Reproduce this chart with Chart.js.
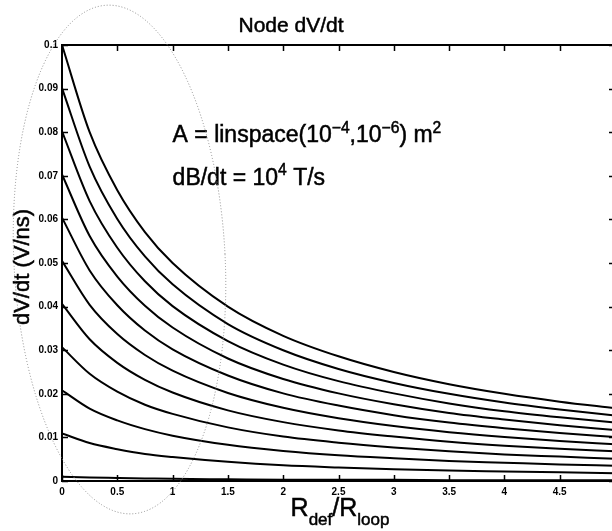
<!DOCTYPE html>
<html>
<head>
<meta charset="utf-8">
<script src="https://cdn.jsdelivr.net/npm/chart.js@4/dist/chart.umd.min.js"></script>
<style>
  html, body { margin: 0; padding: 0; background: #fff; overflow: hidden; }
  #wrap { width: 612px; height: 531px; overflow: hidden; }
</style>
</head>
<body>
<div id="wrap"><canvas id="c" width="620" height="531"></canvas></div>

<script>
const xs = [0, 0.25, 0.5, 0.75, 1, 1.5, 2, 2.5, 3, 3.5, 4, 4.5, 5];

// dV/dt (V/ns), one curve per area value
const curveA1  = [0.1,    0.08,   0.0667, 0.0571, 0.05,   0.04,   0.0333, 0.0286, 0.025,  0.0222, 0.02,   0.0182, 0.0167];
const curveA2  = [0.0901, 0.0721, 0.0601, 0.0515, 0.0451, 0.036,  0.03,   0.0257, 0.0225, 0.02,   0.018,  0.0164, 0.015];
const curveA3  = [0.0802, 0.0642, 0.0535, 0.0458, 0.0401, 0.0321, 0.0267, 0.0229, 0.0201, 0.0178, 0.016,  0.0146, 0.0134];
const curveA4  = [0.0703, 0.0562, 0.0469, 0.0402, 0.0352, 0.0281, 0.0234, 0.0201, 0.0176, 0.0156, 0.0141, 0.0128, 0.0117];
const curveA5  = [0.0604, 0.0483, 0.0403, 0.0345, 0.0302, 0.0242, 0.0201, 0.0173, 0.0151, 0.0134, 0.0121, 0.011,  0.0101];
const curveA6  = [0.0505, 0.0404, 0.0337, 0.0289, 0.0253, 0.0202, 0.0168, 0.0144, 0.0126, 0.0112, 0.0101, 0.0092, 0.0084];
const curveA7  = [0.0406, 0.0325, 0.0271, 0.0232, 0.0203, 0.0162, 0.0135, 0.0116, 0.0102, 0.009,  0.0081, 0.0074, 0.0068];
const curveA8  = [0.0307, 0.0246, 0.0205, 0.0175, 0.0154, 0.0123, 0.0102, 0.0088, 0.0077, 0.0068, 0.0061, 0.0056, 0.0051];
const curveA9  = [0.0208, 0.0166, 0.0139, 0.0119, 0.0104, 0.0083, 0.0069, 0.0059, 0.0052, 0.0046, 0.0042, 0.0038, 0.0035];
const curveA10 = [0.0109, 0.0087, 0.0073, 0.0062, 0.0055, 0.0044, 0.0036, 0.0031, 0.0027, 0.0024, 0.0022, 0.002,  0.0018];
const curveA11 = [0.001,  0.0008, 0.0007, 0.0006, 0.0005, 0.0004, 0.0003, 0.0003, 0.0003, 0.0002, 0.0002, 0.0002, 0.0002];

const curves = [curveA1, curveA2, curveA3, curveA4, curveA5, curveA6,
                curveA7, curveA8, curveA9, curveA10, curveA11];

const xTickValues = [0, 0.5, 1, 1.5, 2, 2.5, 3, 3.5, 4, 4.5, 5];
const xTickLabels = ['0', '0.5', '1', '1.5', '2', '2.5', '3', '3.5', '4', '4.5', ''];
const yTickValues = [0, 0.01, 0.02, 0.03, 0.04, 0.05, 0.06, 0.07, 0.08, 0.09, 0.1];
const yTickLabels = ['0', '0.01', '0.02', '0.03', '0.04', '0.05', '0.06', '0.07', '0.08', '0.09', '0.1'];

const FONT = "'Liberation Sans', Arial, Helvetica, sans-serif";

// draw text made of normal / sup / sub pieces, left aligned at x
function drawRich(ctx, parts, x, y, size) {
    let cx = x;
    parts.forEach(([txt, mode]) => {
        let fs = size, dy = 0;
        if (mode === 'sup') { fs = size * 0.68; dy = -size * 0.42; }
        if (mode === 'sub') { fs = size * 0.68; dy = size * 0.36; }
        ctx.font = fs + 'px ' + FONT;
        ctx.fillText(txt, cx, y + dy);
        ctx.strokeText(txt, cx, y + dy);
        cx += ctx.measureText(txt).width;
    });
    return cx - x;
}

function richWidth(ctx, parts, size) {
    let w = 0;
    parts.forEach(([txt, mode]) => {
        const fs = mode === 'n' ? size : size * 0.68;
        ctx.font = fs + 'px ' + FONT;
        w += ctx.measureText(txt).width;
    });
    return w;
}

const decor = {
    id: 'decor',
    afterDraw(chart) {
        const ctx = chart.ctx;
        const a = chart.chartArea;
        const xs_ = chart.scales.x, ys_ = chart.scales.y;
        ctx.save();

        // frame on top and right
        ctx.strokeStyle = '#000';
        ctx.lineWidth = 2;
        ctx.beginPath();
        ctx.moveTo(a.left, a.top); ctx.lineTo(a.right, a.top); ctx.lineTo(a.right, a.bottom);
        ctx.stroke();

        // inward tick marks on all four sides
        ctx.lineWidth = 1.5;
        xTickValues.forEach(v => {
            const px = Math.round(xs_.getPixelForValue(v)) + 0.5;
            ctx.beginPath();
            ctx.moveTo(px, a.bottom); ctx.lineTo(px, a.bottom - 6);
            ctx.moveTo(px, a.top); ctx.lineTo(px, a.top + 6);
            ctx.stroke();
        });
        yTickValues.forEach(v => {
            const py = Math.round(ys_.getPixelForValue(v)) + 0.5;
            ctx.beginPath();
            ctx.moveTo(a.left, py); ctx.lineTo(a.left + 6, py);
            ctx.moveTo(a.right, py); ctx.lineTo(a.right - 6, py);
            ctx.stroke();
        });

        ctx.fillStyle = '#000';
        ctx.strokeStyle = '#000';
        ctx.lineWidth = 0.5;
        ctx.textBaseline = 'alphabetic';

        // title
        ctx.textAlign = 'center';
        ctx.font = '21px ' + FONT;
        ctx.fillText('Node dV/dt', 291, 32);
        ctx.strokeText('Node dV/dt', 291, 32);

        // annotation text, anchored in data units
        ctx.textAlign = 'left';
        const tx = xs_.getPixelForValue(1.0);
        drawRich(ctx, [['A = linspace(10', 'n'], ['\u22124', 'sup'], [',10', 'n'], ['\u22126', 'sup'], [') m', 'n'], ['2', 'sup']],
                 tx, ys_.getPixelForValue(0.0777), 23);
        drawRich(ctx, [['dB/dt = 10', 'n'], ['4', 'sup'], [' T/s', 'n']],
                 tx, ys_.getPixelForValue(0.068), 23);

        // x axis label with subscripts
        const xl = [['R', 'n'], ['def', 'sub'], ['/R', 'n'], ['loop', 'sub']];
        const xlw = richWidth(ctx, xl, 25);
        drawRich(ctx, xl, 340 - xlw / 2, 516, 25);

        // y axis label, rotated
        ctx.translate(29, 267);
        ctx.rotate(-Math.PI / 2);
        ctx.textAlign = 'center';
        ctx.font = '22px ' + FONT;
        ctx.fillText('dV/dt (V/ns)', 0, 0);
        ctx.strokeText('dV/dt (V/ns)', 0, 0);
        ctx.setTransform(1, 0, 0, 1, 0, 0);

        // dotted ellipse highlighting the low-ratio region
        const ecx = xs_.getPixelForValue(0.52), ecy = ys_.getPixelForValue(0.0508);
        const erx = xs_.getPixelForValue(0.52 + 0.955) - ecx;
        const ery = ecy - ys_.getPixelForValue(0.0508 + 0.0584);
        ctx.strokeStyle = '#8c8c8c';
        ctx.lineWidth = 1;
        ctx.setLineDash([1, 2]);
        ctx.beginPath();
        ctx.ellipse(ecx, ecy, erx, ery, -0.05, 0, Math.PI * 2);
        ctx.stroke();

        ctx.restore();
    }
};

new Chart(document.getElementById('c').getContext('2d'), {
    type: 'line',
    data: {
        datasets: curves.map(c => ({
            data: xs.map((x, i) => ({ x: x, y: c[i] })),
            borderColor: '#000',
            borderWidth: 2,
            pointRadius: 0,
            fill: false,
            cubicInterpolationMode: 'monotone'
        }))
    },
    options: {
        responsive: false,
        animation: false,
        layout: { padding: { top: 45, right: 5, left: 0, bottom: 0 } },
        plugins: { legend: { display: false }, tooltip: { enabled: false } },
        scales: {
            x: {
                type: 'linear', min: 0, max: 5,
                afterFit: s => { s.height = 50; },
                afterBuildTicks: s => { s.ticks = xTickValues.map(v => ({ value: v })); },
                grid: { display: false, drawTicks: false },
                border: { display: true, color: '#000', width: 2 },
                ticks: {
                    padding: 5, color: '#000', maxRotation: 0, autoSkip: false,
                    font: { family: FONT, size: 10, weight: 'bold' },
                    callback: (v, i) => xTickLabels[i]
                }
            },
            y: {
                type: 'linear', min: 0, max: 0.1,
                afterFit: s => { s.width = 62; },
                afterBuildTicks: s => { s.ticks = yTickValues.map(v => ({ value: v })); },
                grid: { display: false, drawTicks: false },
                border: { display: true, color: '#000', width: 2 },
                ticks: {
                    padding: 4, color: '#000', autoSkip: false,
                    font: { family: FONT, size: 10, weight: 'bold' },
                    callback: (v, i) => yTickLabels[i]
                }
            }
        }
    },
    plugins: [decor]
});
</script>
</body>
</html>
